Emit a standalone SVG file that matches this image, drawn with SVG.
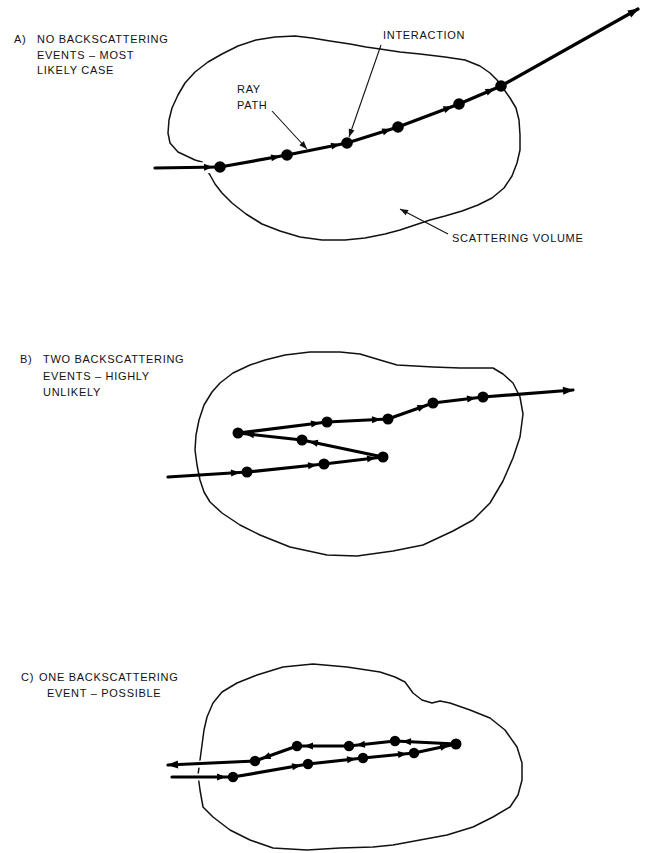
<svg xmlns="http://www.w3.org/2000/svg" width="646" height="853" viewBox="0 0 646 853">
  <style>
    .lbl { font-family: "Liberation Sans", Arial, sans-serif; font-size: 11px; letter-spacing: 0.7px; fill: #111; }
    .vol { fill: none; stroke: #111; stroke-width: 1.5; stroke-linejoin: round; }
    .gap { fill: none; stroke: #fff; stroke-linecap: butt; }
    .ray { fill: none; stroke: #000; stroke-width: 3.2; stroke-linecap: round; marker-end: url(#mid); }
    .ray.out { marker-end: url(#tip); }
    .ptr { fill: none; stroke: #111; stroke-width: 1.1; marker-end: url(#ptr); }
    .ev { fill: #000; }
  </style>
  <defs>
    <!-- small head set just short of the next interaction point -->
    <marker id="mid" markerUnits="userSpaceOnUse" markerWidth="9" markerHeight="7" refX="16" refY="3.5" orient="auto" overflow="visible">
      <path d="M0,0 L9,3.5 L0,7 z" fill="#000"/>
    </marker>
    <!-- head at the free end of a ray -->
    <marker id="tip" markerUnits="userSpaceOnUse" markerWidth="11" markerHeight="8" refX="10" refY="4" orient="auto" overflow="visible">
      <path d="M0,0 L11,4 L0,8 z" fill="#000"/>
    </marker>
    <!-- thin leader arrow for callouts -->
    <marker id="ptr" markerUnits="userSpaceOnUse" markerWidth="8" markerHeight="6" refX="8" refY="3" orient="auto" overflow="visible">
      <path d="M0,0 L8,3 L0,6 z" fill="#111"/>
    </marker>
  </defs>
  <rect width="646" height="853" fill="#fff"/>

  <!-- ===== Case A ===== -->
  <g id="volume-a">
    <path class="vol" d="M202,162 L195,160 L178,152 L170,143 L168,133 L169,120 L172,108 L178,95 L185,83 L195,72 L208,62 L222,54 L238,46 L256,40 L275,37 L295,36 L312,38 L330,41 L350,44 L366,47 L380,49 L400,52 L420,54 L445,57 L465,60 L480,66 L490,73 L497,80 L503,88 L510,98 L516,108 L519,120 L520,135 L520,150 L517,163 L512,176 L504,188 L492,198 L478,205 L462,211 L445,216 L430,220 L415,225 L400,230 L385,234 L365,238 L345,240 L322,240 L300,237 L280,231 L262,224 L246,214 L232,203 L222,193 L215,184 L210,175 Z"/>
  </g>
  <g id="label-a">
    <text class="lbl" x="14" y="43">A)</text>
    <text class="lbl" x="37" y="43">NO BACKSCATTERING</text>
    <text class="lbl" x="37" y="58.5">EVENTS – MOST</text>
    <text class="lbl" x="37" y="74">LIKELY CASE</text>
  </g>
  <g id="callout-interaction">
    <text class="lbl" x="383" y="38.5">INTERACTION</text>
  </g>
  <g id="callout-raypath">
    <text class="lbl" x="237" y="93">RAY</text>
    <text class="lbl" x="237" y="109">PATH</text>
  </g>
  <g id="callout-volume">
    <text class="lbl" x="452" y="242">SCATTERING VOLUME</text>
  </g>

  <!-- ===== Case B ===== -->
  <g id="volume-b">
    <path class="vol" d="M265,360 L250,365 L233,373 L220,383 L212,392 L204,405 L199,420 L196,435 L195,450 L197,465 L200,480 L204,492 L210,502 L222,513 L240,525 L260,535 L290,547 L327,555 L357,556 L393,551 L423,545 L453,531 L473,520 L490,503 L503,481 L513,458 L520,437 L523,414 L520,397 L513,383 L503,374 L493,368 L460,368 L433,367 L397,365 L380,360 L360,354 L340,352 L310,352 L285,355 Z"/>
  </g>
  <g id="label-b">
    <text class="lbl" x="20" y="363">B)</text>
    <text class="lbl" x="43" y="363">TWO BACKSCATTERING</text>
    <text class="lbl" x="43" y="379.5">EVENTS – HIGHLY</text>
    <text class="lbl" x="43" y="396">UNLIKELY</text>
  </g>

  <!-- ===== Case C ===== -->
  <g id="volume-c">
    <path class="vol" d="M222,692 L237,683 L257,675 L283,667 L313,664 L347,667 L380,672 L395,677 L405,682 L413,693 L422,700 L432,703 L440,701 L450,703 L470,710 L490,718 L505,730 L517,747 L522,763 L522,780 L518,795 L510,807 L493,817 L473,827 L447,835 L420,840 L393,845 L373,847 L340,848 L307,850 L273,848 L250,840 L230,830 L213,817 L203,807 L200,790 L198,775 L200,760 L202,745 L204,730 L207,717 L213,703 Z"/>
  </g>
  <g id="label-c">
    <text class="lbl" x="21" y="681">C)</text>
    <text class="lbl" x="39" y="681">ONE BACKSCATTERING</text>
    <text class="lbl" x="47" y="697">EVENT – POSSIBLE</text>
  </g>

  <!-- ray paths, callout leaders -->
  <g id="connectors">
    <!-- clear the outline where a ray crosses it -->
    <line class="gap" stroke-width="11" x1="196" y1="168" x2="214" y2="167.5"/>
    <line class="gap" stroke-width="7" x1="190" y1="777" x2="210" y2="777"/>
    <line class="gap" stroke-width="7" x1="190" y1="764.6" x2="210" y2="763.8"/>
    <!-- A -->
    <line class="ray" x1="155" y1="168" x2="220" y2="167"/>
    <line class="ray" x1="220" y1="167" x2="287" y2="155"/>
    <line class="ray" x1="287" y1="155" x2="347" y2="143"/>
    <line class="ray" x1="347" y1="143" x2="398" y2="127"/>
    <line class="ray" x1="398" y1="127" x2="459" y2="104"/>
    <line class="ray" x1="459" y1="104" x2="501" y2="86"/>
    <line class="ray out" x1="501" y1="86" x2="638" y2="9"/>
    <line class="ptr" x1="381" y1="45" x2="349" y2="137"/>
    <line class="ptr" x1="272" y1="111" x2="307" y2="149"/>
    <line class="ptr" x1="448" y1="234" x2="400" y2="209"/>
    <!-- B -->
    <line class="ray" x1="168" y1="477" x2="247" y2="472"/>
    <line class="ray" x1="247" y1="472" x2="324" y2="464"/>
    <line class="ray" x1="324" y1="464" x2="383" y2="457"/>
    <line class="ray" x1="383" y1="457" x2="302" y2="440"/>
    <line class="ray" x1="302" y1="440" x2="238" y2="433"/>
    <line class="ray" x1="238" y1="433" x2="327" y2="422"/>
    <line class="ray" x1="327" y1="422" x2="388" y2="419"/>
    <line class="ray" x1="388" y1="419" x2="433" y2="403"/>
    <line class="ray" x1="433" y1="403" x2="483" y2="397"/>
    <line class="ray out" x1="483" y1="397" x2="573" y2="390"/>
    <!-- C -->
    <line class="ray" x1="172" y1="777" x2="233" y2="777"/>
    <line class="ray" x1="233" y1="777" x2="308" y2="764"/>
    <line class="ray" x1="308" y1="764" x2="363" y2="758"/>
    <line class="ray" x1="363" y1="758" x2="414" y2="753"/>
    <line class="ray" x1="414" y1="753" x2="456" y2="744"/>
    <line class="ray" x1="456" y1="744" x2="395" y2="741"/>
    <line class="ray" x1="395" y1="741" x2="349" y2="746"/>
    <line class="ray" x1="349" y1="746" x2="297" y2="746"/>
    <line class="ray" x1="297" y1="746" x2="255" y2="761"/>
    <line class="ray out" x1="255" y1="761" x2="168" y2="765"/>
  </g>

  <!-- interaction events -->
  <g id="events-a" class="ev">
    <circle cx="220" cy="167" r="5.8"/>
    <circle cx="287" cy="155" r="5.8"/>
    <circle cx="347" cy="143" r="5.8"/>
    <circle cx="398" cy="127" r="5.8"/>
    <circle cx="459" cy="104" r="5.8"/>
    <circle cx="501" cy="86" r="5.8"/>
  </g>
  <g id="events-b" class="ev">
    <circle cx="247" cy="472" r="5.5"/>
    <circle cx="324" cy="464" r="5.5"/>
    <circle cx="383" cy="457" r="5.5"/>
    <circle cx="302" cy="440" r="5.5"/>
    <circle cx="238" cy="433" r="5.5"/>
    <circle cx="327" cy="422" r="5.5"/>
    <circle cx="388" cy="419" r="5.5"/>
    <circle cx="433" cy="403" r="5.5"/>
    <circle cx="483" cy="397" r="5.5"/>
  </g>
  <g id="events-c" class="ev">
    <circle cx="233" cy="777" r="5.2"/>
    <circle cx="308" cy="764" r="5.2"/>
    <circle cx="363" cy="758" r="5.2"/>
    <circle cx="414" cy="753" r="5.2"/>
    <circle cx="456" cy="744" r="5.5"/>
    <circle cx="395" cy="741" r="5.2"/>
    <circle cx="349" cy="746" r="5.2"/>
    <circle cx="297" cy="746" r="5.2"/>
    <circle cx="255" cy="761" r="5.2"/>
  </g>
</svg>
